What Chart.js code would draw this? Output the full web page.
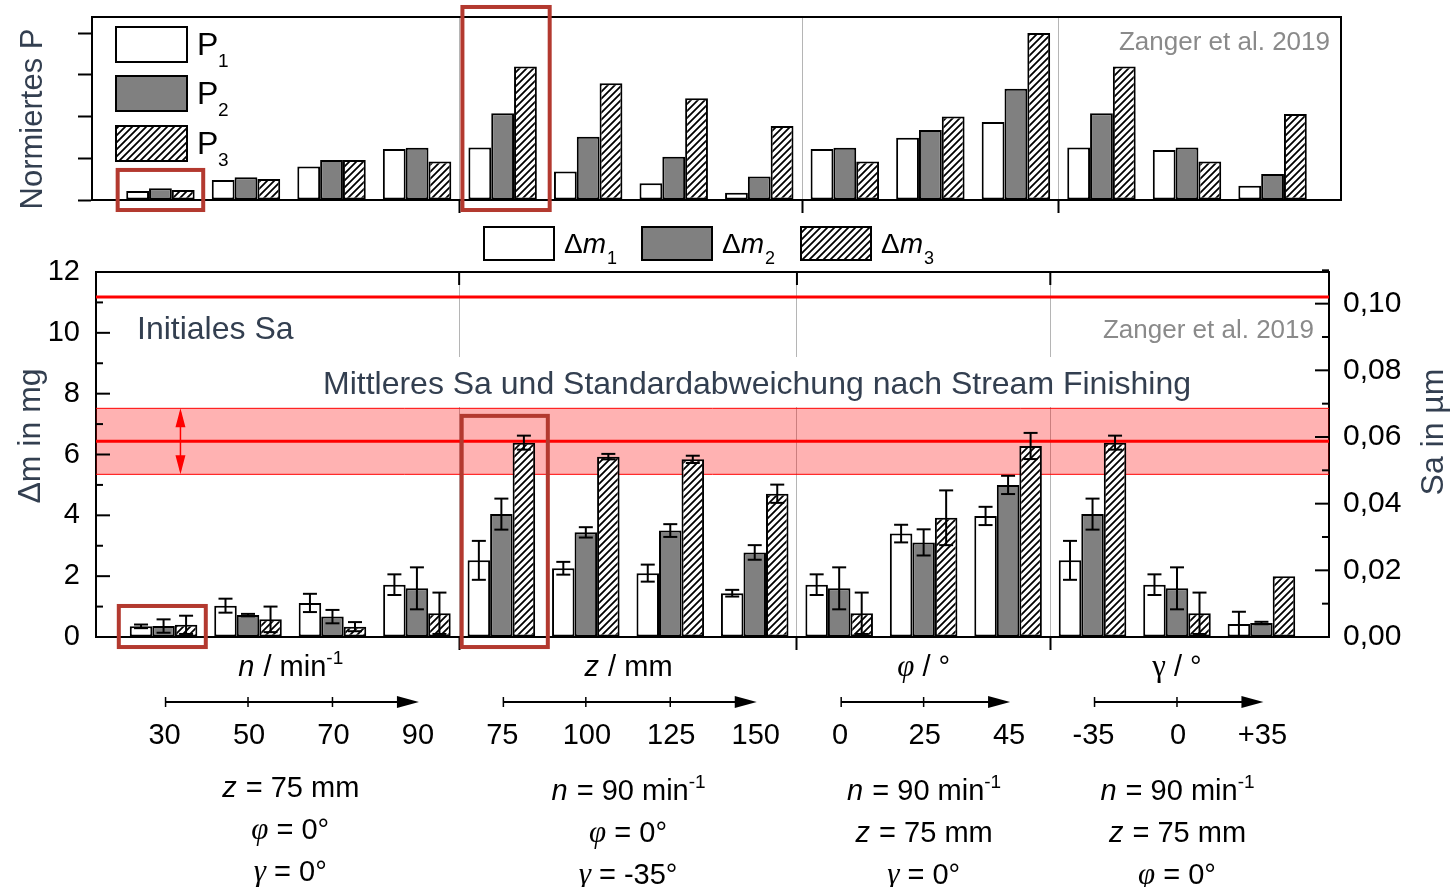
<!DOCTYPE html>
<html lang="de">
<head>
<meta charset="utf-8">
<title>Normiertes P und Massenabtrag</title>
<script src="https://cdn.jsdelivr.net/npm/chart.js@4.4.1/dist/chart.umd.min.js"></script>
<style>
    html, body { margin: 0; padding: 0; background: #fff; }
    #page { position: relative; width: 1451px; height: 887px; overflow: hidden; }
    #topChart { position: absolute; left: 0; top: 0; }
    #bottomChart { position: absolute; left: 0; top: 222px; }
</style>
</head>
<body>
<div id="page">
    <canvas id="topChart" width="1451" height="225"></canvas>
    <canvas id="bottomChart" width="1451" height="665"></canvas>
</div>
<script>
/* ===============================
   Daten
   =============================== */
const groupLabels = ["30", "50", "70", "90", "75", "100", "125", "150", "0", "25", "45", "-35", "0", "+35"];
const groupSeparators = [3.5, 7.5, 10.5];

// Normiertes P (oberes Diagramm)
const normP1 = [0.054, 0.12, 0.20, 0.305, 0.315, 0.17, 0.10, 0.044, 0.305, 0.373, 0.467, 0.315, 0.30, 0.086];
const normP2 = [0.07, 0.136, 0.24, 0.313, 0.519, 0.379, 0.259, 0.14, 0.313, 0.419, 0.667, 0.519, 0.315, 0.156];
const normP3 = [0.06, 0.126, 0.24, 0.23, 0.80, 0.699, 0.609, 0.443, 0.23, 0.50, 1.0, 0.80, 0.23, 0.515];

// Massenabtrag in mg (unteres Diagramm) + Standardabweichung
const dm1 = [0.35, 1.03, 1.12, 1.72, 2.52, 2.26, 2.10, 1.44, 1.72, 3.40, 3.98, 2.52, 1.72, 0.43];
const dm2 = [0.36, 0.72, 0.67, 1.60, 4.04, 3.44, 3.50, 2.78, 1.60, 3.11, 5.00, 4.04, 1.60, 0.46];
const dm3 = [0.40, 0.58, 0.34, 0.78, 6.39, 5.93, 5.84, 4.71, 0.78, 3.92, 6.28, 6.39, 0.78, 2.00];
const dm1Err = [0.06, 0.23, 0.30, 0.34, 0.64, 0.21, 0.28, 0.11, 0.34, 0.29, 0.30, 0.64, 0.34, 0.40];
const dm2Err = [0.22, 0.04, 0.22, 0.69, 0.51, 0.17, 0.21, 0.24, 0.69, 0.43, 0.30, 0.51, 0.69, 0.04];
const dm3Err = [0.30, 0.42, 0.15, 0.68, 0.23, 0.09, 0.12, 0.30, 0.68, 0.90, 0.43, 0.23, 0.68, null];

// Rauheit Sa in µm (rechte Achse)
const saInitial = 0.102;
const saMean = 0.0587;
const saStd = 0.0099;

// Parameterblöcke unter dem Diagramm
const paramBlocks = [
    { first: 0, last: 3, title: [["n", "it"], [" / min"], ["-1", "sup"]],
      cond: [[["z", "it"], [" = 75 mm"]], [["φ", "gr"], [" = 0°"]], [["γ", "gr"], [" = 0°"]]] },
    { first: 4, last: 7, title: [["z", "it"], [" / mm"]],
      cond: [[["n", "it"], [" = 90 min"], ["-1", "sup"]], [["φ", "gr"], [" = 0°"]], [["γ", "gr"], [" = -35°"]]] },
    { first: 8, last: 10, title: [["φ", "gr"], [" / °"]],
      cond: [[["n", "it"], [" = 90 min"], ["-1", "sup"]], [["z", "it"], [" = 75 mm"]], [["γ", "gr"], [" = 0°"]]] },
    { first: 11, last: 13, title: [["γ", "grUp"], [" / °"]],
      cond: [[["n", "it"], [" = 90 min"], ["-1", "sup"]], [["z", "it"], [" = 75 mm"]], [["φ", "gr"], [" = 0°"]]] }
];

/* ===============================
   Stil-Helfer
   =============================== */
const SANS = "'Liberation Sans', Arial, sans-serif";
const SERIF = "'Liberation Serif', 'Times New Roman', serif";
const SLATE = "#333f50";
const BOX_RED = "#b3392f";

function makeHatch(canvasId) {
    const tile = document.createElement("canvas");
    tile.width = 7; tile.height = 7;
    const g = tile.getContext("2d");
    g.fillStyle = "#fff";
    g.fillRect(0, 0, 7, 7);
    g.strokeStyle = "#000";
    g.lineWidth = 1.8;
    g.beginPath();
    g.moveTo(0, 7); g.lineTo(7, 0);
    g.moveTo(-2, 2); g.lineTo(2, -2);
    g.moveTo(5, 9); g.lineTo(9, 5);
    g.stroke();
    return document.getElementById(canvasId).getContext("2d").createPattern(tile, "repeat");
}

function seg(ctx, x1, y1, x2, y2) {
    ctx.beginPath();
    ctx.moveTo(x1, y1);
    ctx.lineTo(x2, y2);
    ctx.stroke();
}

// Text aus mehreren Teilen (kursiv, hochgestellt ...) zeichnen
function drawRich(ctx, parts, x, y, size, align) {
    const fontFor = kind => {
        if (kind === "it") return `italic ${size}px ${SANS}`;
        if (kind === "gr") return `italic ${size + 2}px ${SERIF}`;
        if (kind === "grUp") return `${size + 2}px ${SERIF}`;
        if (kind === "sup" || kind === "sub") return `${Math.round(size * 0.64)}px ${SANS}`;
        return `${size}px ${SANS}`;
    };
    let w = 0;
    parts.forEach(p => { ctx.font = fontFor(p[1]); w += ctx.measureText(p[0]).width; });
    let cx = align === "center" ? x - w / 2 : (align === "right" ? x - w : x);
    ctx.textAlign = "left";
    ctx.textBaseline = "alphabetic";
    parts.forEach(p => {
        ctx.font = fontFor(p[1]);
        let dy = 0;
        if (p[1] === "sup") dy = -size * 0.42;
        if (p[1] === "sub") dy = size * 0.38;
        ctx.fillText(p[0], cx, y + dy);
        cx += ctx.measureText(p[0]).width + (p[1] === "it" ? 1 : 0);
    });
}

function rotatedTitle(ctx, text, xBaseline, yCenter, size, color) {
    ctx.save();
    ctx.translate(xBaseline, yCenter);
    ctx.rotate(-Math.PI / 2);
    ctx.font = `${size}px ${SANS}`;
    ctx.fillStyle = color;
    ctx.textAlign = "center";
    ctx.textBaseline = "alphabetic";
    ctx.fillText(text, 0, 0);
    ctx.restore();
}

function drawHighlight(chart, x0, x1, y0, y1) {
    const { ctx, scales } = chart;
    const px0 = scales.x.getPixelForValue(x0), px1 = scales.x.getPixelForValue(x1);
    const py0 = scales.y.getPixelForValue(y0), py1 = scales.y.getPixelForValue(y1);
    ctx.save();
    ctx.strokeStyle = BOX_RED;
    ctx.lineWidth = 4;
    ctx.strokeRect(px0, py1, px1 - px0, py0 - py1);
    ctx.restore();
}

const hatchTop = makeHatch("topChart");
const hatchBottom = makeHatch("bottomChart");

const separatorTicks = scale => { scale.ticks = groupSeparators.map(v => ({ value: v })); };

/* ===============================
   Plugins oberes Diagramm
   =============================== */
const topDecor = {
    id: "topDecor",
    afterDraw(chart) {
        const { ctx, chartArea: a } = chart;
        ctx.save();
        ctx.strokeStyle = "#000";
        ctx.lineWidth = 2;
        seg(ctx, a.left - 1, a.top, a.right + 1, a.top);
        seg(ctx, a.right, a.top, a.right, a.bottom);

        // Legende P1..P3
        const fills = ["#fff", "#808080", hatchTop];
        const boxTops = [27, 76, 126];
        boxTops.forEach((yt, i) => {
            ctx.fillStyle = fills[i];
            ctx.fillRect(116, yt, 71, 35);
            ctx.strokeRect(116, yt, 71, 35);
            ctx.fillStyle = "#000";
            ctx.font = `32px ${SANS}`;
            ctx.textAlign = "left";
            ctx.textBaseline = "alphabetic";
            ctx.fillText("P", 197, yt + 28);
            ctx.font = `19px ${SANS}`;
            ctx.fillText(String(i + 1), 218, yt + 40);
        });

        ctx.fillStyle = "#8a8a8a";
        ctx.font = `26px ${SANS}`;
        ctx.textAlign = "right";
        ctx.fillText("Zanger et al. 2019", 1330, 50);
        ctx.restore();

        rotatedTitle(ctx, "Normiertes P", 42, 119, 31, SLATE);

        drawHighlight(chart, -0.5, 0.5, -0.06, 0.18);
        drawHighlight(chart, 3.53, 4.55, -0.06, 1.156);
    }
};

/* ===============================
   Plugins unteres Diagramm
   =============================== */
const errorBars = {
    id: "errorBars",
    afterDatasetsDraw(chart) {
        const { ctx, scales } = chart;
        ctx.save();
        ctx.strokeStyle = "#000";
        ctx.lineWidth = 2;
        chart.data.datasets.forEach((ds, di) => {
            if (!ds.errors) return;
            chart.getDatasetMeta(di).data.forEach((bar, i) => {
                const e = ds.errors[i];
                if (e == null) return;
                const v = ds.data[i].y;
                const yHi = scales.y.getPixelForValue(v + e);
                const yLo = scales.y.getPixelForValue(Math.max(v - e, 0));
                seg(ctx, bar.x, yHi, bar.x, yLo);
                seg(ctx, bar.x - 7, yHi, bar.x + 7, yHi);
                seg(ctx, bar.x - 7, yLo, bar.x + 7, yLo);
            });
        });
        ctx.restore();
    }
};

const bottomDecor = {
    id: "bottomDecor",
    afterDraw(chart) {
        const { ctx, chartArea: a, scales } = chart;
        const off = 222;
        ctx.save();
        ctx.strokeStyle = "#000";
        ctx.lineWidth = 2;
        seg(ctx, a.left - 1, a.top, a.right + 1, a.top);

        // Ticks nach innen (links mg, rechts Sa)
        scales.y.ticks.forEach(t => {
            const py = scales.y.getPixelForValue(t.value);
            seg(ctx, a.left, py, a.left + 14, py);
            const pm = scales.y.getPixelForValue(t.value + 1);
            if (t.value + 1 < scales.y.max) seg(ctx, a.left, pm, a.left + 7, pm);
        });
        scales.y2.ticks.forEach(t => {
            const py = scales.y2.getPixelForValue(t.value);
            seg(ctx, a.right - 14, py, a.right, py);
            const pm = scales.y2.getPixelForValue(t.value + 0.01);
            seg(ctx, a.right - 7, pm, a.right, pm);
        });
        groupSeparators.forEach(v => {
            const px = scales.x.getPixelForValue(v);
            seg(ctx, px, a.top, px, a.top + 13);
        });

        // Doppelpfeil für die Standardabweichung
        const ax = scales.x.getPixelForValue(0.2);
        const yTop = scales.y2.getPixelForValue(saMean + saStd);
        const yBot = scales.y2.getPixelForValue(saMean - saStd);
        ctx.strokeStyle = "#ff0000";
        ctx.fillStyle = "#ff0000";
        ctx.lineWidth = 1.5;
        seg(ctx, ax, yTop + 4, ax, yBot - 4);
        ctx.beginPath();
        ctx.moveTo(ax, yTop); ctx.lineTo(ax - 5, yTop + 19); ctx.lineTo(ax + 5, yTop + 19); ctx.closePath();
        ctx.moveTo(ax, yBot); ctx.lineTo(ax - 5, yBot - 19); ctx.lineTo(ax + 5, yBot - 19); ctx.closePath();
        ctx.fill();

        // Beschriftungen im Diagramm
        ctx.textBaseline = "alphabetic";
        ctx.fillStyle = SLATE;
        ctx.font = `32px ${SANS}`;
        ctx.textAlign = "left";
        ctx.fillText("Initiales Sa", 137, 339 - off);
        ctx.fillStyle = "#8a8a8a";
        ctx.font = `26px ${SANS}`;
        ctx.textAlign = "right";
        ctx.fillText("Zanger et al. 2019", 1314, 338 - off);

        ctx.fillStyle = "#fff";
        ctx.fillRect(318, 357 - off, 880, 50);
        ctx.fillStyle = SLATE;
        ctx.font = `32px ${SANS}`;
        ctx.textAlign = "center";
        ctx.fillText("Mittleres Sa und Standardabweichung nach Stream Finishing", 757, 394 - off);

        // Legende Δm1..Δm3
        ctx.strokeStyle = "#000";
        ctx.lineWidth = 2;
        const fills = ["#fff", "#808080", hatchBottom];
        const boxLefts = [484, 642, 801];
        boxLefts.forEach((xl, i) => {
            ctx.fillStyle = fills[i];
            ctx.fillRect(xl, 227 - off, 70, 33);
            ctx.strokeRect(xl, 227 - off, 70, 33);
            ctx.fillStyle = "#000";
            drawRich(ctx, [["Δ"], ["m", "it"], [String(i + 1), "sub"]], xl + 80, 253 - off, 28, "left");
        });

        // Achsenabschnitte unterhalb: Titel, Pfeil, Werte, Bedingungen
        ctx.fillStyle = "#000";
        paramBlocks.forEach(b => {
            const x0 = scales.x.getPixelForValue(b.first);
            const x1 = scales.x.getPixelForValue(b.last);
            const xm = (x0 + x1) / 2;
            drawRich(ctx, b.title, xm, 676 - off, 29, "center");

            const ya = 702 - off;
            ctx.lineWidth = 2;
            seg(ctx, x0 + 2, ya, x1 - 14, ya);
            ctx.beginPath();
            ctx.moveTo(x1 + 2, ya); ctx.lineTo(x1 - 20, ya - 6); ctx.lineTo(x1 - 20, ya + 6); ctx.closePath();
            ctx.fill();
            ctx.lineWidth = 1.5;
            for (let i = b.first; i < b.last; i++) {
                const px = scales.x.getPixelForValue(i) + (i === b.first ? 2 : 0);
                seg(ctx, px, ya - 5, px, ya + 5);
            }
            for (let i = b.first; i <= b.last; i++) {
                ctx.font = `29px ${SANS}`;
                ctx.textAlign = "center";
                ctx.fillText(groupLabels[i], scales.x.getPixelForValue(i) + 1, 744 - off);
            }
            const base = b.first === 0 ? 797 : 800;
            b.cond.forEach((line, k) => {
                drawRich(ctx, line, xm, base + k * 42 - off, 29, "center");
            });
        });
        ctx.restore();

        rotatedTitle(ctx, "Δm in mg", 40, 436 - off, 32, SLATE);
        rotatedTitle(ctx, "Sa in µm", 1443, 432 - off, 32, SLATE);

        drawHighlight(chart, -0.53, 0.5, -0.33, 1.02);
        drawHighlight(chart, 3.53, 4.55, -0.33, 7.27);
    }
};

/* ===============================
   Oberes Diagramm: Normiertes P
   =============================== */
new Chart(document.getElementById("topChart"), {
    type: "bar",
    data: {
        datasets: [
            { label: "P1", data: normP1.map((v, i) => ({ x: i, y: v })), backgroundColor: "#fff" },
            { label: "P2", data: normP2.map((v, i) => ({ x: i, y: v })), backgroundColor: "#808080" },
            { label: "P3", data: normP3.map((v, i) => ({ x: i, y: v })), backgroundColor: hatchTop }
        ]
    },
    options: {
        responsive: false,
        animation: false,
        events: [],
        layout: { padding: { left: 0, right: 110, top: 17, bottom: 0 } },
        datasets: {
            bar: { categoryPercentage: 0.8, barPercentage: 1, borderColor: "#000", borderWidth: 2, borderSkipped: false }
        },
        plugins: { legend: { display: false }, tooltip: { enabled: false } },
        scales: {
            x: {
                type: "linear", min: -0.8, max: 13.8, offset: false,
                afterBuildTicks: separatorTicks,
                afterFit: s => { s.height = 25; },
                ticks: { display: false },
                grid: { offset: false, color: "#b5b5b5", lineWidth: 1, tickColor: "#000", tickWidth: 2, tickLength: 13 },
                border: { color: "#000", width: 2 }
            },
            y: {
                min: 0, max: 1.096,
                afterFit: s => { s.width = 92; },
                ticks: { display: false, stepSize: 0.25, includeBounds: false },
                grid: { drawOnChartArea: false, tickLength: 14, tickColor: "#000", tickWidth: 2 },
                border: { color: "#000", width: 2 }
            }
        }
    },
    plugins: [topDecor]
});

/* ===============================
   Unteres Diagramm: Δm und Sa
   =============================== */
const saLine = v => [{ x: -0.8, y: v }, { x: 13.8, y: v }];

new Chart(document.getElementById("bottomChart"), {
    type: "bar",
    data: {
        datasets: [
            { label: "Δm1", data: dm1.map((v, i) => ({ x: i, y: v })), errors: dm1Err, backgroundColor: "#fff", order: 0 },
            { label: "Δm2", data: dm2.map((v, i) => ({ x: i, y: v })), errors: dm2Err, backgroundColor: "#808080", order: 0 },
            { label: "Δm3", data: dm3.map((v, i) => ({ x: i, y: v })), errors: dm3Err, backgroundColor: hatchBottom, order: 0 },
            { type: "line", label: "Initiales Sa", data: saLine(saInitial), yAxisID: "y2", borderColor: "#ff0000", borderWidth: 3, pointRadius: 0, order: 1 },
            { type: "line", label: "Sa oben", data: saLine(saMean + saStd), yAxisID: "y2", borderColor: "#ff0000", borderWidth: 1, pointRadius: 0, order: 1 },
            { type: "line", label: "Sa unten", data: saLine(saMean - saStd), yAxisID: "y2", borderColor: "#ff0000", borderWidth: 1, pointRadius: 0,
              fill: "-1", backgroundColor: "rgba(255, 0, 0, 0.3)", order: 1 },
            { type: "line", label: "Mittleres Sa", data: saLine(saMean), yAxisID: "y2", borderColor: "#ff0000", borderWidth: 3, pointRadius: 0, order: 1 }
        ]
    },
    options: {
        responsive: false,
        animation: false,
        events: [],
        layout: { padding: { left: 0, right: 0, top: 50, bottom: 0 } },
        datasets: {
            bar: { categoryPercentage: 0.8, barPercentage: 1, borderColor: "#000", borderWidth: 2, borderSkipped: false }
        },
        plugins: { legend: { display: false }, tooltip: { enabled: false } },
        scales: {
            x: {
                type: "linear", min: -0.8, max: 13.8, offset: false,
                afterBuildTicks: separatorTicks,
                afterFit: s => { s.height = 250; },
                ticks: { display: false },
                grid: { offset: false, color: "#b5b5b5", lineWidth: 1, tickColor: "#000", tickWidth: 2, tickLength: 13 },
                border: { color: "#000", width: 2 }
            },
            y: {
                min: 0, max: 12,
                afterFit: s => { s.width = 96; },
                ticks: { stepSize: 2, padding: 16, color: "#000", font: { family: SANS, size: 29 } },
                grid: { drawOnChartArea: false, drawTicks: false },
                border: { color: "#000", width: 2 }
            },
            y2: {
                position: "right", min: 0, max: 0.1095,
                afterFit: s => { s.width = 122; },
                ticks: {
                    stepSize: 0.02, includeBounds: false, padding: 14, color: "#000", font: { family: SANS, size: 30 },
                    callback: v => v.toFixed(2).replace(".", ",")
                },
                grid: { drawOnChartArea: false, drawTicks: false },
                border: { color: "#000", width: 2 }
            }
        }
    },
    plugins: [errorBars, bottomDecor]
});
</script>
</body>
</html>
